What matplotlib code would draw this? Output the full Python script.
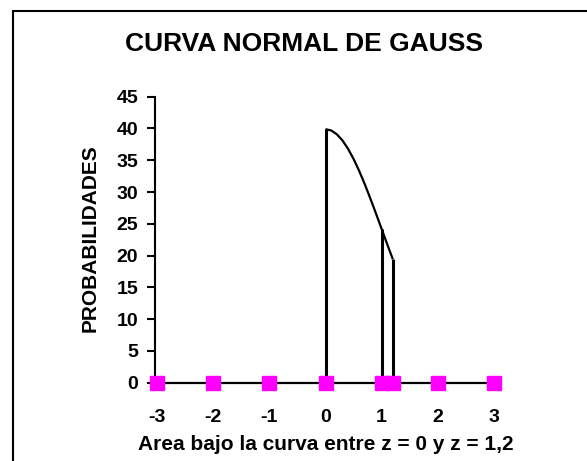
import matplotlib.pyplot as plt
from matplotlib.patches import Rectangle

# Datos
z_puntos = [-3, -2, -1, 0, 1, 1.2, 2, 3]
y_puntos = [0, 0, 0, 0, 0, 0, 0, 0]

z_curva = [0, 0.1, 0.2, 0.3, 0.4, 0.5, 0.6, 0.7, 0.8, 0.9, 1.0, 1.1, 1.2]
prob_curva = [39.89, 39.69, 39.10, 38.14, 36.83, 35.21, 33.32,
              31.23, 28.97, 26.61, 24.20, 21.79, 19.42]

z_verticales = [0, 1, 1.2]
prob_verticales = [39.89, 24.20, 19.42]

y_ticks = [0, 5, 10, 15, 20, 25, 30, 35, 40, 45]
x_ticks = [-3, -2, -1, 0, 1, 2, 3]

plt.rcParams['font.family'] = ['Liberation Sans', 'DejaVu Sans']
plt.rcParams['font.weight'] = 'bold'

fig = plt.figure(figsize=(5.87, 4.61), dpi=100)
W, H = 587, 461

# marco del grafico (estilo Excel)
fig.patches.append(Rectangle((12.5 / W, -0.1), 1.2, 1.1 - 11.5 / H,
                             transform=fig.transFigure, fill=False,
                             edgecolor='black', linewidth=1.5))

ax = fig.add_axes([155 / W, 1 - 382.7 / H, 350 / W, (382.7 - 96.7) / H])

# curva y lineas verticales
ax.plot(z_curva, prob_curva, color='black', linewidth=1.6, solid_capstyle='butt')
for z, p in zip(z_verticales, prob_verticales):
    ax.plot([z, z], [0, p], color='black', linewidth=2.2, solid_capstyle='butt')

# eje z con marcadores
ax.plot(z_puntos, y_puntos, color='black', linewidth=1.6, marker='s',
        markersize=10.5, markerfacecolor='#ff00ff', markeredgecolor='#ff00ff',
        clip_on=False, zorder=5)

ax.set_xlim(-3.04, 3.2)
ax.set_ylim(0, 45)
ax.set_yticks(y_ticks)
ax.set_xticks(x_ticks)
ax.set_xticklabels([str(v) for v in x_ticks])

for s in ['top', 'right', 'bottom']:
    ax.spines[s].set_visible(False)
ax.spines['left'].set_linewidth(1.5)

ax.tick_params(axis='y', direction='out', length=6, width=1.5, pad=6, labelsize=14)
ax.tick_params(axis='x', length=0, pad=19, labelsize=14)

ax.set_ylabel('PROBABILIDADES', fontsize=15, fontweight='bold')
ax.yaxis.set_label_coords(-0.157, 0.506)
ax.set_xlabel('Area bajo la curva entre z = 0 y z = 1,2', fontsize=15,
              fontweight='bold')
ax.xaxis.set_label_coords(0.489, -0.183)

fig.text(304 / W, 1 - 44 / H, 'CURVA NORMAL DE GAUSS', ha='center', va='center',
         fontsize=19, fontweight='bold')

fig.savefig('out.png', dpi=100)
